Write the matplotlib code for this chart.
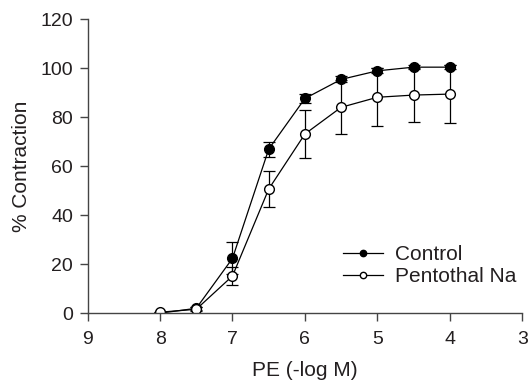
"""Concentration-response curves for PE, control vs Pentothal Na."""

import matplotlib
matplotlib.use('agg')
from matplotlib import pyplot

pyplot.rcParams['font.family'] = ['Liberation Sans', 'DejaVu Sans']

LOG_CONC = [8, 7.5, 7, 6.5, 6, 5.5, 5, 4.5, 4]

CONTROL_MEAN = [0.0, 2.0, 22.4, 67.0, 87.7, 95.5, 99.0, 100.5, 100.5]
CONTROL_SEM = [0.0, 0.5, 6.5, 3.0, 1.8, 1.2, 1.0, 0.8, 0.8]

PENTOTHAL_MEAN = [0.4, 1.6, 15.2, 50.7, 73.2, 84.1, 88.2, 89.1, 89.5]
PENTOTHAL_SEM = [0.0, 0.8, 3.5, 7.4, 9.7, 11.0, 11.8, 11.0, 12.0]

X_TICKS = [9, 8, 7, 6, 5, 4, 3]
Y_TICKS = [0, 20, 40, 60, 80, 100, 120]

TEXT_COLOUR = '#231f20'
TICK_FONT_SIZE = 14
LABEL_FONT_SIZE = 15


def _run():
    figure_object = pyplot.figure(figsize=(5.28, 3.81), dpi=100)
    axes_object = figure_object.add_axes([0.166, 0.178, 0.823, 0.771])

    axes_object.errorbar(
        LOG_CONC, CONTROL_MEAN, yerr=CONTROL_SEM, color='black',
        marker='o', markersize=7, markerfacecolor='black',
        markeredgecolor='black', linewidth=0.9, elinewidth=0.9,
        capsize=4.3, capthick=0.9, label='Control', zorder=3
    )
    axes_object.errorbar(
        LOG_CONC, PENTOTHAL_MEAN, yerr=PENTOTHAL_SEM, color='black',
        marker='o', markersize=7, markerfacecolor='white',
        markeredgecolor='black', linewidth=0.9, elinewidth=0.9,
        capsize=4.3, capthick=0.9, label='Pentothal Na', zorder=4
    )

    axes_object.set_xlim(9, 3)
    axes_object.set_ylim(0, 120)
    axes_object.set_xticks(X_TICKS)
    axes_object.set_yticks(Y_TICKS)

    for side in ['top', 'right']:
        axes_object.spines[side].set_visible(False)
    for side in ['left', 'bottom']:
        axes_object.spines[side].set_color('#444444')
        axes_object.spines[side].set_linewidth(1.0)
    axes_object.spines['bottom'].set_zorder(5)

    axes_object.tick_params(
        direction='out', length=5.5, width=1.0, color='#444444',
        labelsize=TICK_FONT_SIZE, labelcolor=TEXT_COLOUR
    )
    axes_object.tick_params(axis='x', pad=7)
    axes_object.tick_params(axis='y', pad=5)

    axes_object.set_xlabel(
        'PE (-log M)', fontsize=LABEL_FONT_SIZE, color=TEXT_COLOUR,
        labelpad=10
    )
    axes_object.set_ylabel(
        '% Contraction', fontsize=LABEL_FONT_SIZE, color=TEXT_COLOUR,
        labelpad=7
    )

    handles, labels = axes_object.get_legend_handles_labels()
    handles = [h[0] for h in handles]
    legend_object = figure_object.legend(
        handles, labels, loc='center left', bbox_to_anchor=(0.65, 0.303),
        frameon=False, fontsize=LABEL_FONT_SIZE, markerscale=0.65,
        handlelength=1.9, handletextpad=0.6, labelspacing=0.15,
        borderpad=0, borderaxespad=0
    )
    for text_object in legend_object.get_texts():
        text_object.set_color(TEXT_COLOUR)

    figure_object.savefig('out.png', dpi=100)
    pyplot.close(figure_object)


if __name__ == '__main__':
    _run()
